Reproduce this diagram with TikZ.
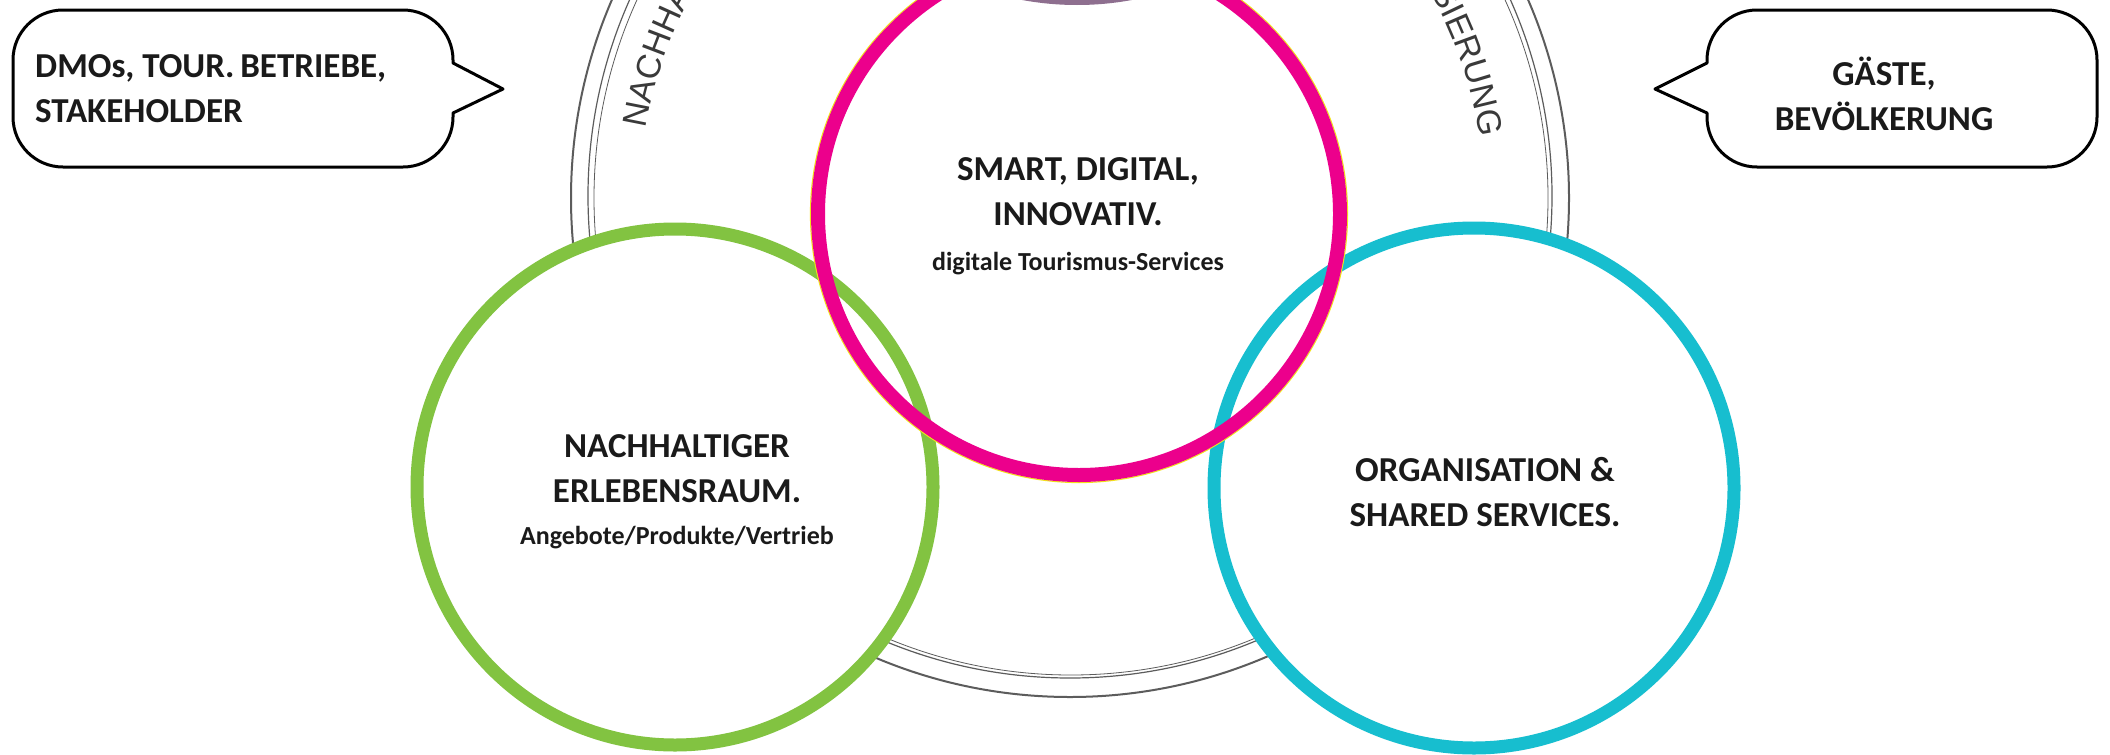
\documentclass[tikz,border=0pt]{standalone}
\usepackage{fontspec}
\setmainfont{Carlito}
\newfontfamily\ringfont{Liberation Sans}
\usetikzlibrary{decorations.text}

\definecolor{vgreen}{HTML}{82C341}
\definecolor{vpink}{HTML}{EC008C}
\definecolor{vcyan}{HTML}{17BECF}
\definecolor{vplum}{HTML}{8E6F8F}
\definecolor{vyellow}{HTML}{F2E21A}
\definecolor{ringgray}{HTML}{5C5C5C}
\definecolor{txtgray}{HTML}{3A3A3A}
\definecolor{txtblack}{HTML}{1A1A1A}

\tikzset{
    ring/.style={draw=ringgray, line width=#1},
    field/.style={line width=13pt, fill=white},
    bubble/.style={draw=black, line width=3pt, line join=round},
    title/.style={align=center, text=txtblack, inner sep=0pt,
        font=\bfseries\fontsize{35}{45}\selectfont},
    subtitle/.style={text=txtblack, inner sep=0pt,
        font=\bfseries\fontsize{26}{30}\selectfont},
    ringtext/.style={decorate, decoration={text along path,
        text={|\ringfont\fontsize{34}{34}\selectfont\color{txtgray}|#1}}}
}

\begin{document}
\begin{tikzpicture}[x=1pt, y=1pt]
    \clip (0,0) rectangle (2110,-755);
    \fill[white] (0,0) rectangle (2110,-755);

    % grey ring with its lettering
    \draw[ring=2pt] (1070,-198) circle[radius=499];
    \draw[ring=1.2pt] (1070,-196) circle[radius=482];
    \draw[ring=0.8pt] (1071,-198) circle[radius=477];
    \path[ringtext={NACHHA}] (1062,-198) ++(170.5:422) arc[start angle=170.5, end angle=135, radius=422];
    \path[ringtext={SIERUNG}] (1062,-198) ++(29.3:422) arc[start angle=29.3, end angle=0, radius=422];

    % the three fields
    \draw[field, draw=vgreen] (675,-487) circle[radius=258];
    \draw[field, draw=vcyan] (1474,-488) circle[radius=260];
    \fill[vplum] (1077,295) circle[radius=300];
    \draw[vyellow, line width=1.2pt] (1079,-214) circle[radius=268.5];
    \draw[vpink, line width=14pt] (1079,-214) circle[radius=261];

    % base = baseline of the last line
    \node[title, anchor=base] (smart) at (1078,-225) {SMART, DIGITAL,\\INNOVATIV.};
    \node[subtitle, anchor=base] (smartsub) at (1078,-270) {digitale Tourismus-Services};
    \node[title, anchor=base] (erleben) at (677,-502) {NACHHALTIGER\\ERLEBENSRAUM.};
    \node[subtitle, anchor=base] (erlebensub) at (677,-544) {Angebote/Produkte/Vertrieb};
    \node[title, anchor=base] (orga) at (1485,-526) {ORGANISATION \&\\SHARED SERVICES.};

    % speech bubbles
    \draw[bubble] (63,-10) -- (403,-10) arc[start angle=90, end angle=0, radius=50]
        -- (453,-63) -- (503,-89) -- (453,-113) -- (453,-117)
        arc[start angle=0, end angle=-90, radius=50] -- (63,-167)
        arc[start angle=270, end angle=180, radius=50] -- (13,-60)
        arc[start angle=180, end angle=90, radius=50] -- cycle;
    \draw[bubble] (1757,-10) -- (2047,-10) arc[start angle=90, end angle=0, radius=50]
        -- (2097,-117) arc[start angle=0, end angle=-90, radius=50] -- (1757,-167)
        arc[start angle=270, end angle=180, radius=50] -- (1707,-113) -- (1655,-89)
        -- (1707,-63) -- (1707,-60) arc[start angle=180, end angle=90, radius=50] -- cycle;

    \node[title, align=left, anchor=base west] (dmo) at (35,-122) {DMOs, TOUR.\,BETRIEBE,\\STAKEHOLDER};
    \node[title, anchor=base] (gaeste) at (1884,-130) {GÄSTE,\\BEVÖLKERUNG};
\end{tikzpicture}
\end{document}
